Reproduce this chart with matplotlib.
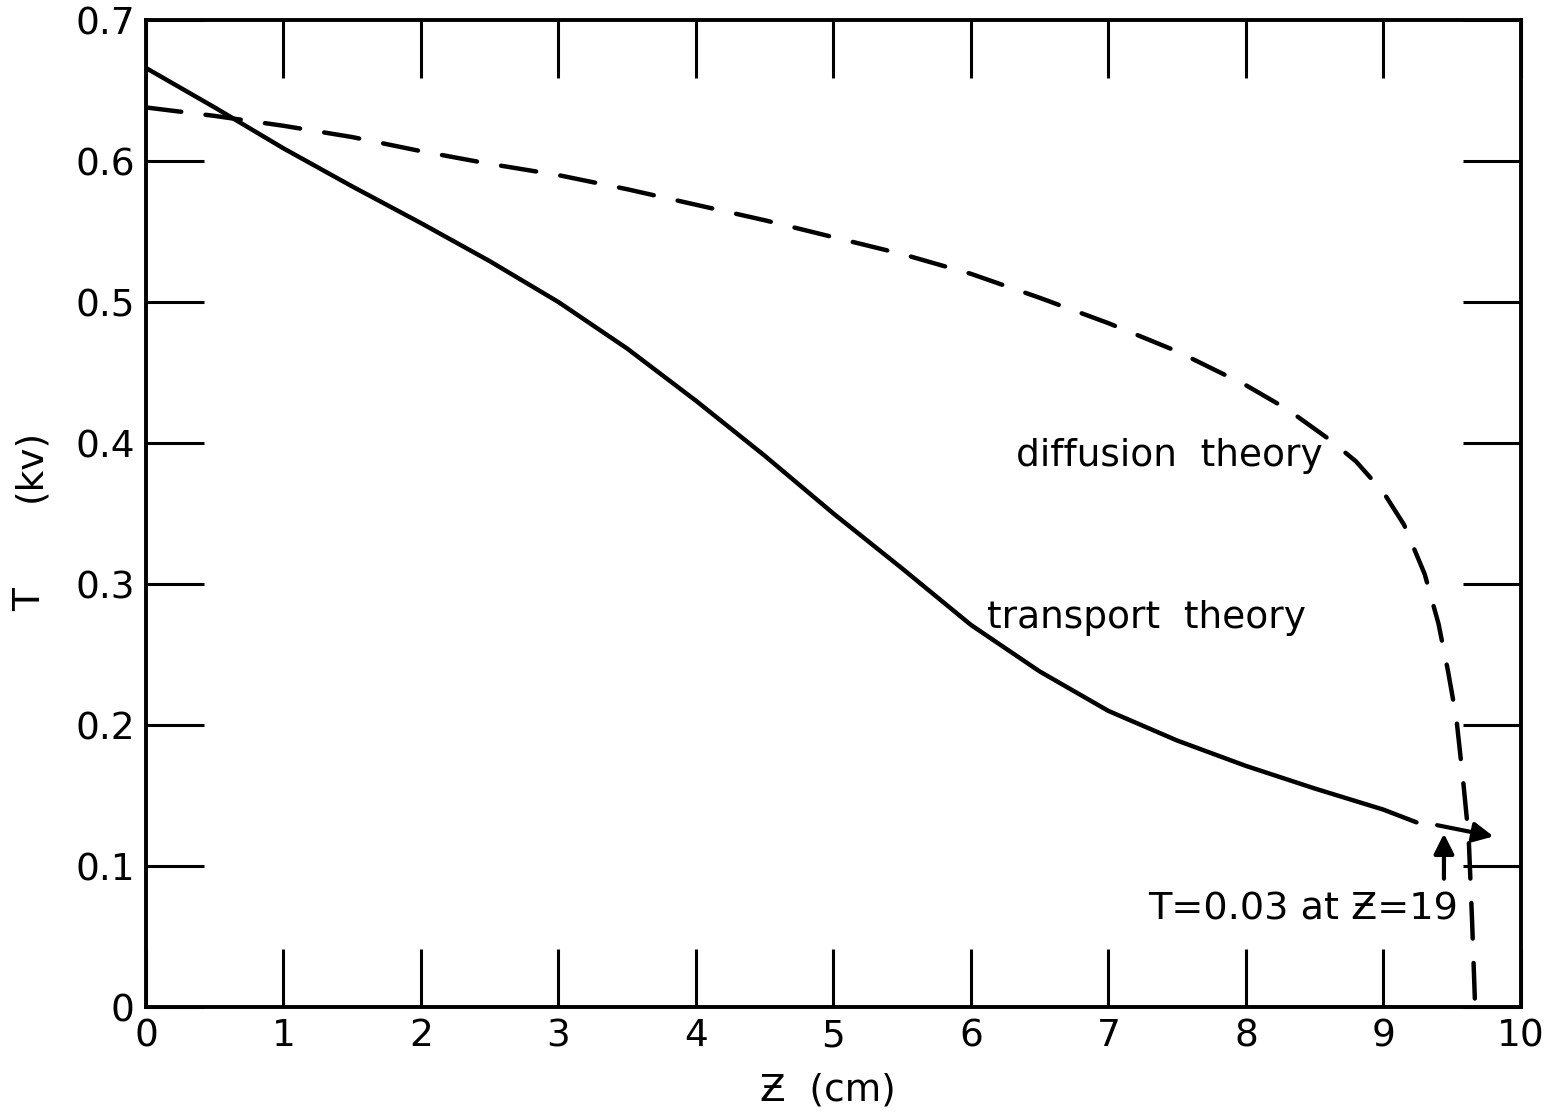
import matplotlib
matplotlib.use('Agg')
import matplotlib.pyplot as plt

plt.rcParams['font.family'] = 'DejaVu Sans'

# values (z in cm, T in kv)
transport_z = [0.0, 0.5, 1.0, 1.5, 2.0, 2.5, 3.0, 3.5, 4.0, 4.5, 5.0, 5.5, 6.0,
               6.5, 7.0, 7.5, 8.0, 8.5, 9.0, 9.24]
transport_T = [0.666, 0.638, 0.609, 0.582, 0.556, 0.529, 0.500, 0.467, 0.430, 0.391,
               0.350, 0.311, 0.271, 0.238, 0.210, 0.189, 0.171, 0.155, 0.140, 0.131]

# little tail of the transport curve drawn as an arrow
tail_z = [9.39, 9.80]
tail_T = [0.129, 0.121]

diffusion_z = [0.0, 0.5, 1.0, 1.5, 2.0, 2.5, 3.0, 3.5, 4.0, 4.5, 5.0, 5.5, 6.0, 6.5,
               7.0, 7.5, 8.0, 8.3, 8.6, 8.8, 9.0, 9.15, 9.3, 9.4, 9.47, 9.53, 9.58,
               9.62, 9.645, 9.665]
diffusion_T = [0.638, 0.632, 0.625, 0.617, 0.607, 0.598, 0.590, 0.580, 0.569, 0.558,
               0.546, 0.534, 0.520, 0.503, 0.485, 0.465, 0.441, 0.424, 0.403, 0.387,
               0.365, 0.342, 0.307, 0.272, 0.238, 0.205, 0.160, 0.120, 0.060, 0.005]

x_ticks = [0, 1, 2, 3, 4, 5, 6, 7, 8, 9, 10]
x_labels = ['0', '1', '2', '3', '4', '5', '6', '7', '8', '9', '10']
y_ticks = [0, 0.1, 0.2, 0.3, 0.4, 0.5, 0.6, 0.7]
y_labels = ['0', '0.1', '0.2', '0.3', '0.4', '0.5', '0.6', '0.7']

fig = plt.figure(figsize=(15.46, 11.13), dpi=100)
ax = fig.add_axes([0.0944, 0.0952, 0.8894, 0.8868])

ax.plot(transport_z, transport_T, color='black', lw=3.2, solid_capstyle='round')
ax.plot(diffusion_z, diffusion_T, color='black', lw=3.2, dashes=(8, 5.5),
        dash_capstyle='round')

ax.annotate('', xy=(tail_z[1], tail_T[1]), xytext=(tail_z[0], tail_T[0]),
            arrowprops=dict(arrowstyle='-|>', lw=3, color='black',
                            mutation_scale=30, shrinkA=0, shrinkB=0))
ax.annotate('', xy=(9.44, 0.123), xytext=(9.44, 0.091),
            arrowprops=dict(arrowstyle='-|>', lw=3, color='black',
                            mutation_scale=30, shrinkA=0, shrinkB=0))

ax.text(6.33, 0.391, 'diffusion  theory', fontsize=27, ha='left', va='center')
ax.text(6.12, 0.276, 'transport  theory', fontsize=27, ha='left', va='center')
ax.text(7.29, 0.069, 'T=0.03 at \u01b5=19', fontsize=27.5, ha='left', va='center')

ax.set_xlim(0, 10)
ax.set_ylim(0, 0.7)
ax.set_xticks(x_ticks)
ax.set_xticklabels(x_labels)
ax.set_yticks(y_ticks)
ax.set_yticklabels(y_labels)
ax.tick_params(direction='in', length=42, width=2.2, labelsize=27, pad=8,
               top=True, right=True)
for s in ax.spines.values():
    s.set_linewidth(2.8)

# y label: "T" and "(kv)" are set apart in the original
fig.text(30 / 1546, 1 - 600 / 1113, 'T', rotation=90, fontsize=27,
         ha='center', va='center')
fig.text(30 / 1546, 1 - 465 / 1113, '(kv)', rotation=90, fontsize=27,
         ha='center', va='center')
fig.text(828 / 1546, 1 - 1090 / 1113, '\u01b5  (cm)', fontsize=27,
         ha='center', va='center')

fig.savefig('out.png', dpi=100)
